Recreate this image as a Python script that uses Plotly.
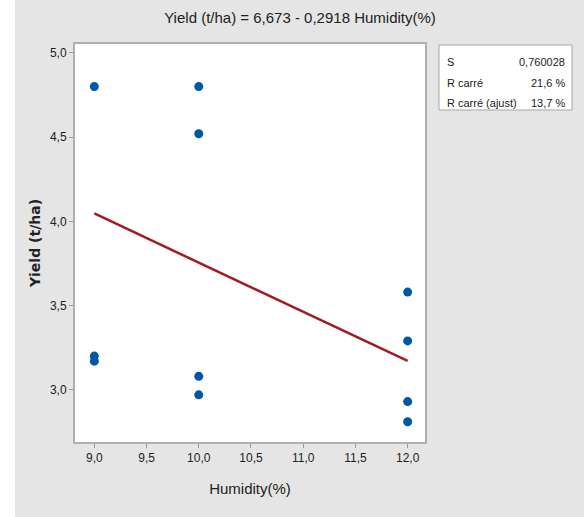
import plotly.graph_objects as go

# ---- data ----
humidity = [9, 9, 9, 10, 10, 10, 10, 12, 12, 12, 12]
yield_tha = [4.80, 3.20, 3.17, 4.80, 4.52, 3.08, 2.97, 3.58, 3.29, 2.93, 2.81]
intercept = 6.673
slope = -0.2918
fit_x = [9, 12]
stat_labels = ["S", "R carré", "R carré (ajust)"]
stat_values = ["0,760028", "21,6 %", "13,7 %"]
title_text = "Yield (t/ha) = 6,673 - 0,2918 Humidity(%)"

W, H = 584, 517
L, R, T, B = 75, 425, 44, 442  # plot area in pixels


def px(x):
    return (x - L) / (R - L)


def py(y):
    return (B - y) / (B - T)


NARROW = "Liberation Sans Narrow, Arial Narrow, Liberation Sans, sans-serif"
TXT = "#222222"

fig = go.Figure()
fig.add_trace(go.Scatter(
    x=fit_x, y=[intercept + slope * v for v in fit_x], mode="lines",
    line=dict(color="#a01c22", width=2.5), hoverinfo="skip", showlegend=False))
fig.add_trace(go.Scatter(
    x=humidity, y=yield_tha, mode="markers",
    marker=dict(color="#0056a8", size=9, symbol="circle"), showlegend=False))

shapes = [
    # white strip on the left edge
    dict(type="rect", xref="paper", yref="paper", x0=px(-5), x1=px(15), y0=py(-5), y1=py(H + 5),
         fillcolor="white", line=dict(width=0), layer="below"),
    # stats box
    dict(type="rect", xref="paper", yref="paper", x0=px(439), x1=px(572), y0=py(110), y1=py(45),
         fillcolor="white", line=dict(color="#a6a6a6", width=1)),
]

annotations = []
rows_y = [62, 83, 103]
for lab, val, yy in zip(stat_labels, stat_values, rows_y):
    annotations.append(dict(xref="paper", yref="paper", x=px(445), y=py(yy), text=lab, showarrow=False,
                            xanchor="left", yanchor="middle", font=dict(family=NARROW, size=11, color=TXT)))
    annotations.append(dict(xref="paper", yref="paper", x=px(567), y=py(yy), text=val, showarrow=False,
                            xanchor="right", yanchor="middle", font=dict(family=NARROW, size=11, color=TXT)))

fig.update_layout(
    width=W, height=H,
    margin=dict(l=L, r=W - R, t=T, b=H - B, pad=0),
    paper_bgcolor="#e5e5e5",
    plot_bgcolor="white",
    separators=", ",
    title=dict(text=title_text, x=300 / W, xanchor="center", y=1 - 18 / H, yanchor="middle",
               font=dict(family=NARROW, size=15, color=TXT)),
    shapes=shapes,
    annotations=annotations,
    showlegend=False,
)

fig.update_xaxes(
    range=[8.815, 12.166], tickvals=[9, 9.5, 10, 10.5, 11, 11.5, 12], tickformat=".1f",
    showgrid=False, zeroline=False, showline=True, mirror=True, linecolor="#b0b0b0", linewidth=2,
    ticks="outside", ticklen=4, tickcolor="#999999", tickwidth=1,
    tickfont=dict(family=NARROW, size=12, color=TXT),
    title=dict(text="Humidity(%)", font=dict(family=NARROW, size=15, color=TXT), standoff=19),
)
fig.update_yaxes(
    range=[2.69, 5.053], tickvals=[3.0, 3.5, 4.0, 4.5, 5.0], tickformat=".1f",
    showgrid=False, zeroline=False, showline=True, mirror=True, linecolor="#b0b0b0", linewidth=2,
    ticks="outside", ticklen=4, tickcolor="#999999", tickwidth=1,
    tickfont=dict(family=NARROW, size=12, color=TXT),
    title=dict(text="Yield (t/ha)", font=dict(family="DejaVu Sans", size=14, color=TXT, weight="bold"), standoff=6),
)

fig.write_html("out.html")
